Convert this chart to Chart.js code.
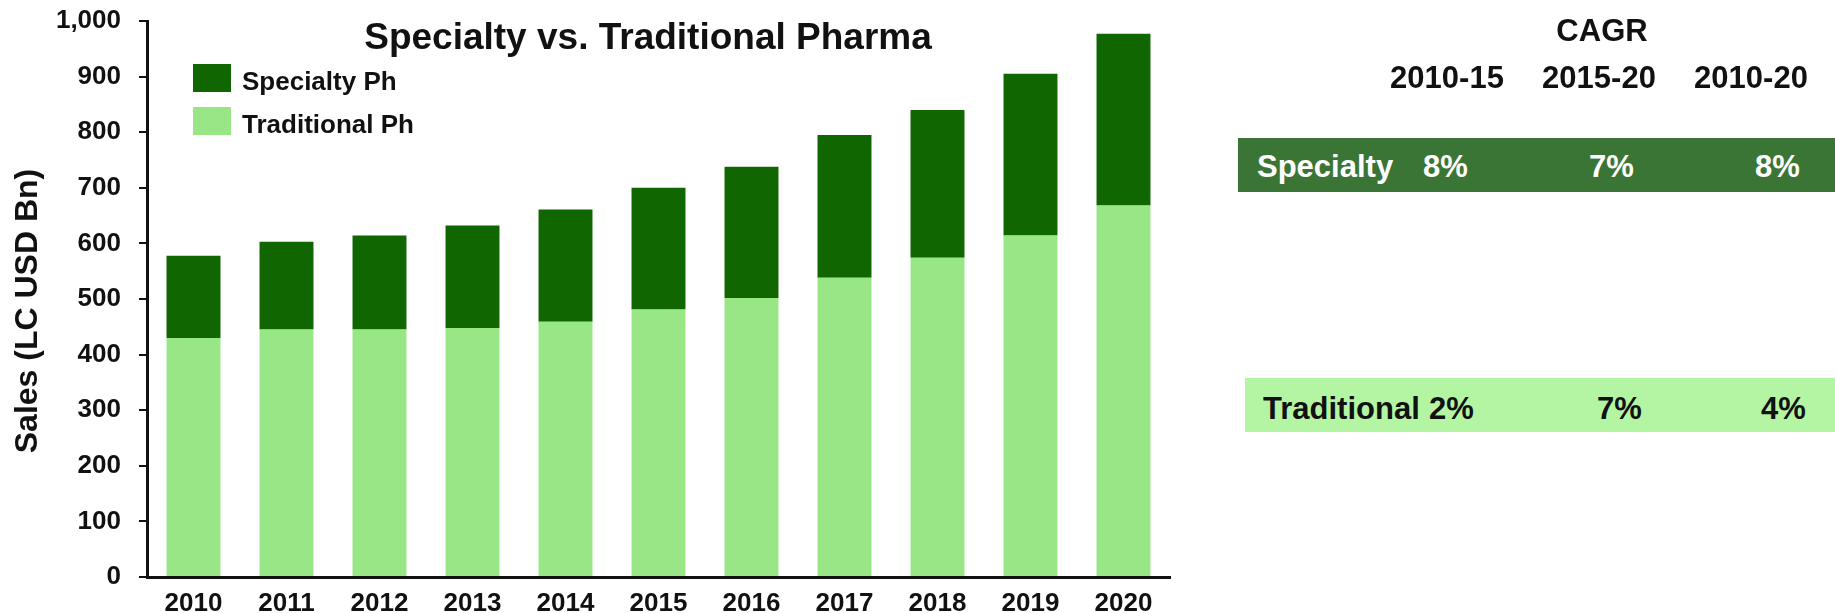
<!DOCTYPE html>
<html>
<head>
<meta charset="utf-8">
<script src="https://cdn.jsdelivr.net/npm/chart.js@4"></script>
<style>
  body { margin: 0; background: #fff; }
  #wrap { position: relative; width: 1835px; height: 613px; overflow: hidden; }
  canvas { position: absolute; left: 0; top: 0; }
  .t { position: absolute; font-family: "Liberation Sans", Arial, sans-serif; font-weight: bold;
       font-size: 31px; line-height: 31px; color: #111; white-space: nowrap; }
  .band { position: absolute; }
</style>
</head>
<body>
<div id="wrap">
  <canvas id="mainChart" width="1835" height="613"></canvas>
</div>
<script>
const years = ["2010", "2011", "2012", "2013", "2014", "2015", "2016", "2017", "2018", "2019", "2020"];
const traditional = [430, 445, 445, 448, 459, 481, 502, 538, 574, 614, 668];
const specialty = [148, 158, 169, 184, 202, 219, 236, 257, 266, 291, 309];

const chartTitle = "Specialty vs. Traditional Pharma";
const yTitle = "Sales (LC USD Bn)";

// CAGR table on the right
const cagrTitle = "CAGR";
const cagrPeriods = ["2010-15", "2015-20", "2010-20"];
const cagrSpecialty = ["8%", "7%", "8%"];
const cagrTraditional = ["2%", "7%", "4%"];

const DARK = "#106600";
const LIGHT = "#99e687";
const INK = "#111111";
const FONT = '"Liberation Sans", Arial, sans-serif';

// title, legend and y title drawn over the canvas
const overlay = {
    id: "overlay",
    afterDraw(chart) {
        const ctx = chart.ctx;
        ctx.save();
        ctx.fillStyle = INK;
        ctx.textAlign = "center";
        ctx.textBaseline = "alphabetic";
        ctx.font = "bold 37px " + FONT;
        ctx.fillText(chartTitle, 648, 49);

        const items = [chart.data.datasets[1], chart.data.datasets[0]];
        items.forEach((ds, i) => {
            const y = 64 + i * 43;
            ctx.fillStyle = ds.backgroundColor;
            ctx.fillRect(193, y, 38, 28);
            ctx.fillStyle = INK;
            ctx.textAlign = "left";
            ctx.font = "bold 26px " + FONT;
            ctx.fillText(ds.label, 242, y + 26);
        });

        ctx.translate(28, 311);
        ctx.rotate(-Math.PI / 2);
        ctx.textAlign = "center";
        ctx.textBaseline = "middle";
        ctx.font = "bold 32px " + FONT;
        ctx.fillText(yTitle, 0, 0);
        ctx.restore();
    }
};

new Chart(document.getElementById("mainChart"), {
    type: "bar",
    data: {
        labels: years,
        datasets: [
            { label: "Traditional Ph", data: traditional, backgroundColor: LIGHT },
            { label: "Specialty Ph", data: specialty, backgroundColor: DARK }
        ]
    },
    options: {
        responsive: false,
        animation: false,
        layout: { padding: { top: 21, right: 665, left: 0, bottom: 0 } },
        datasets: { bar: { categoryPercentage: 1, barPercentage: 0.58 } },
        scales: {
            x: {
                stacked: true,
                grid: { display: false },
                border: { display: true, color: INK, width: 3 },
                ticks: { color: INK, padding: 3, font: { family: FONT, size: 26, weight: "bold" } },
                afterFit: s => { s.height = 36; }
            },
            y: {
                stacked: true,
                min: 0,
                max: 1000,
                grid: { drawOnChartArea: false, drawTicks: true, tickLength: 8, color: INK, lineWidth: 2 },
                border: { display: true, color: INK, width: 3 },
                ticks: {
                    stepSize: 100,
                    color: INK,
                    padding: 18,
                    // small lineHeight so the label padding does not push the plot top down
                    font: { family: FONT, size: 26, weight: "bold", lineHeight: 0.2 },
                    callback: v => v.toLocaleString("en-US")
                },
                afterFit: s => { s.width = 147; }
            }
        },
        plugins: {
            legend: { display: false },
            tooltip: { enabled: false }
        }
    },
    plugins: [overlay]
});

// table (HTML text); top = baseline - 26 for 31px text
const wrap = document.getElementById("wrap");
function band(left, top, width, height, color) {
    const d = document.createElement("div");
    d.className = "band";
    Object.assign(d.style, { left: left + "px", top: top + "px", width: width + "px", height: height + "px", background: color });
    wrap.appendChild(d);
}
function text(str, left, baseline, opts = {}) {
    const d = document.createElement("div");
    d.className = "t";
    d.textContent = str;
    d.style.top = (baseline - 26) + "px";
    if (opts.center) {
        d.style.left = (left - 100) + "px";
        d.style.width = "200px";
        d.style.textAlign = "center";
    } else {
        d.style.left = left + "px";
    }
    if (opts.color) d.style.color = opts.color;
    wrap.appendChild(d);
}

band(1238, 138, 597, 54, "#3b7535");
band(1245, 378, 590, 54, "#b3f5a3");

text(cagrTitle, 1602, 41, { center: true });
const headX = [1447, 1599, 1751];
cagrPeriods.forEach((p, i) => text(p, headX[i], 88, { center: true }));

text("Specialty", 1257, 177, { color: "#fff" });
const specX = [1423, 1589, 1755];
cagrSpecialty.forEach((v, i) => text(v, specX[i], 177, { color: "#fff" }));

text("Traditional", 1263, 419);
const tradX = [1429, 1597, 1761];
cagrTraditional.forEach((v, i) => text(v, tradX[i], 419));
</script>
</body>
</html>
